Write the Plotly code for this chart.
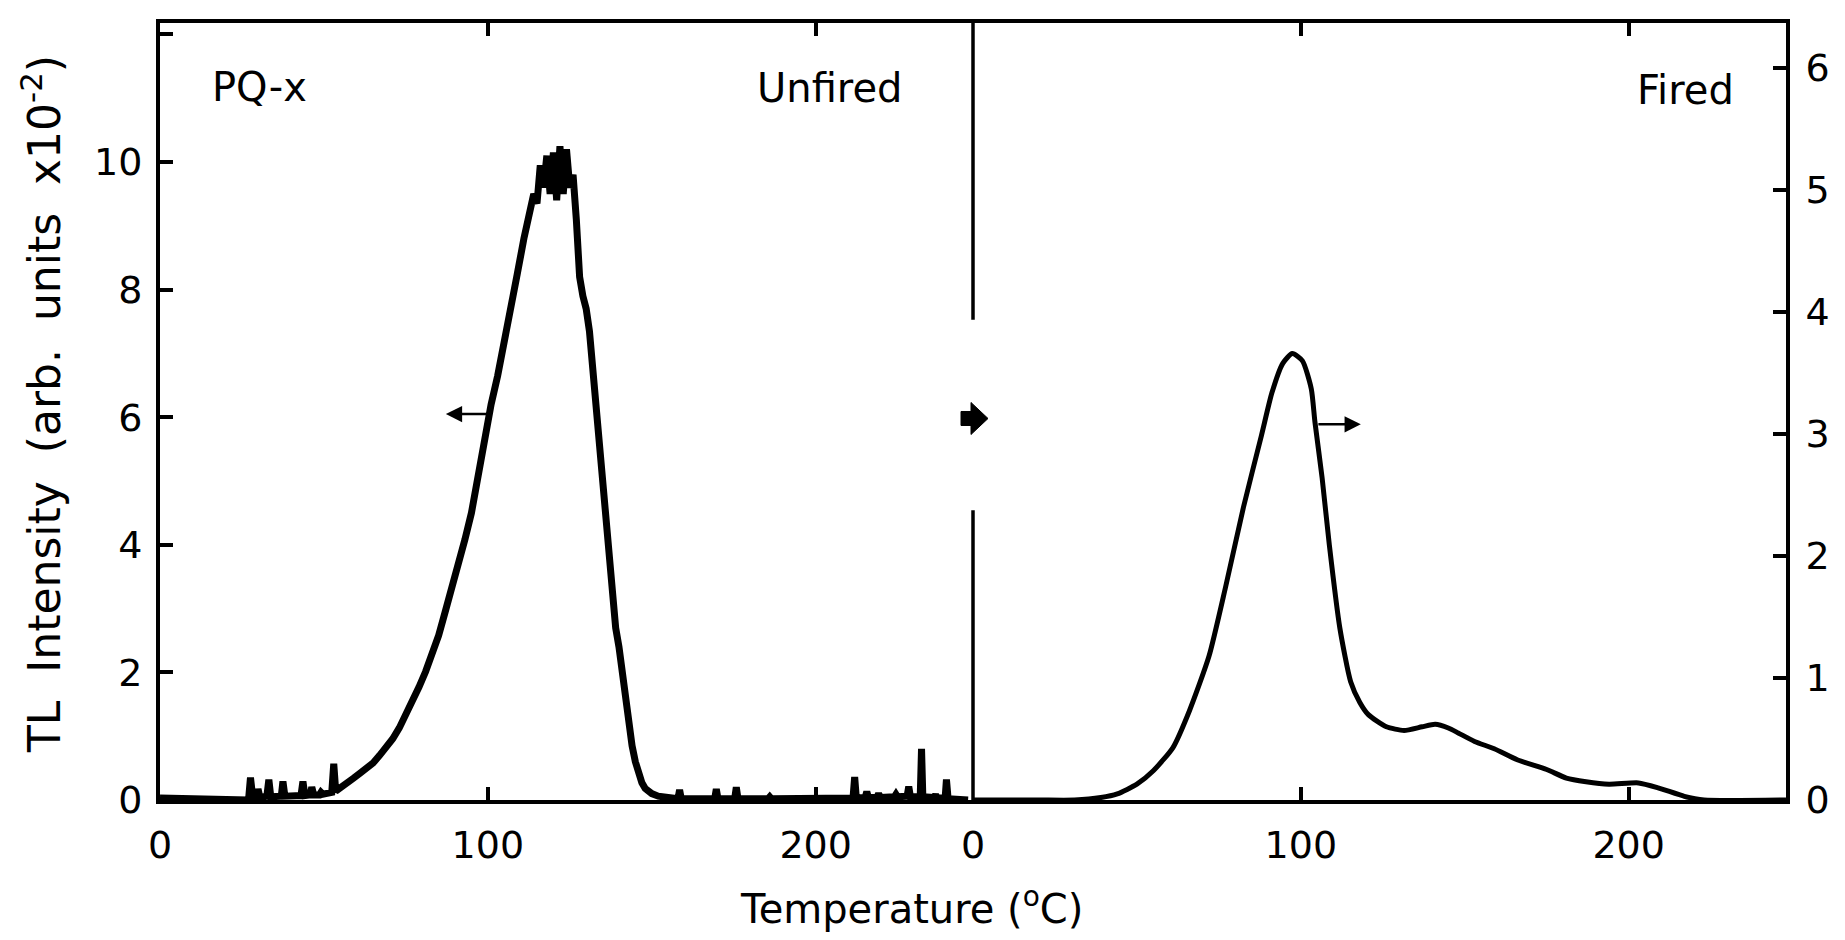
import plotly.graph_objects as go

# unfired sample (left panel, left axis)
unfired_temp = [0, 10, 20, 27.0, 27.6, 28.3, 29.4, 29.9, 30.5, 32.6, 33.2, 33.8, 37.0, 37.5, 38.1,
	43.0, 43.6, 44.2, 45.8, 46.3, 46.9, 48.6, 49.1, 49.7, 52.4, 53.0, 53.6,
	55, 57, 59, 61, 63, 65, 67, 69, 71, 73, 75, 77, 79, 81, 83, 85, 87, 89, 91, 93, 95, 97, 99,
	101, 103, 105, 107, 109, 111, 113, 114, 115, 116, 117, 118, 119, 120, 121, 122, 123, 124,
	125, 126, 127, 128, 129, 130, 131, 132, 133, 134, 135, 136, 137, 138, 139, 140, 141, 142,
	143, 144, 145, 146, 147, 148, 150, 152, 155,
	158.0, 158.5, 159.0, 169.2, 169.7, 170.2, 175.3, 175.8, 176.3, 185.5, 186.0, 186.5,
	190.4, 190.9, 191.4, 207.5, 208.0, 208.5, 211.4, 211.9, 212.4, 215.1, 215.6, 216.1,
	218.7, 219.2, 219.7, 224.0, 224.5, 225.0, 227.9, 228.4, 228.9, 231.9, 232.3, 232.7,
	236.1, 236.6, 237.1, 239.5, 239.9, 240.4, 246.5]
unfired_tl = [0.03, 0.02, 0.0, 0.0, 0.35, 0.04, 0.05, 0.17, 0.04, 0.06, 0.32, 0.05, 0.06, 0.29, 0.06,
	0.07, 0.29, 0.07, 0.08, 0.2, 0.08, 0.08, 0.12, 0.09, 0.12, 0.57, 0.14,
	0.2, 0.27, 0.34, 0.42, 0.5, 0.58, 0.7, 0.82, 0.96, 1.13, 1.33, 1.55, 1.77, 2.01, 2.28, 2.58,
	2.95, 3.3, 3.67, 4.08, 4.5, 5.05, 5.7,
	6.2, 6.65, 7.15, 7.7, 8.25, 8.8, 9.2, 9.5, 9.35, 9.95, 9.6, 10.1, 9.5, 10.15, 9.4, 10.25, 9.5, 10.2,
	9.6, 9.8, 9.1, 8.2, 7.9, 7.7, 7.35, 6.75, 6.1, 5.4, 4.85, 4.3, 3.7, 3.1, 2.7, 2.4, 2.0, 1.5,
	1.15, 0.85, 0.6, 0.4, 0.27, 0.18, 0.1, 0.06, 0.03,
	0.02, 0.16, 0.02, 0.02, 0.17, 0.02, 0.02, 0.2, 0.02, 0.02, 0.05, 0.02,
	0.02, 0.04, 0.02, 0.02, 0.04, 0.02, 0.03, 0.36, 0.03, 0.04, 0.13, 0.04,
	0.04, 0.1, 0.04, 0.05, 0.09, 0.05, 0.06, 0.21, 0.05, 0.05, 0.8, 0.05,
	0.04, 0.08, 0.03, 0.03, 0.32, 0.02, 0.0]

# fired sample (right panel, right axis)
fired_temp = [0, 20, 31, 39, 44, 50, 55, 61, 66, 72, 77, 82.5, 88, 91.2, 94.5, 97.4, 100.5, 103.2,
	104.3, 106.5, 108.7, 111.9, 115.2, 118, 120.6, 126.1, 131.5, 137, 141, 145, 148, 153, 159,
	166, 175, 181, 187, 194, 203, 209, 217, 223, 248]
fired_tl = [0, 0, 0.0, 0.02, 0.05, 0.13, 0.24, 0.43, 0.73, 1.18, 1.74, 2.4, 2.99, 3.34, 3.58, 3.66,
	3.6, 3.37, 3.1, 2.64, 2.09, 1.41, 0.97, 0.8, 0.7, 0.6, 0.57, 0.6, 0.62, 0.59, 0.55, 0.48, 0.42,
	0.33, 0.25, 0.18, 0.15, 0.13, 0.14, 0.1, 0.03, 0.0, 0]

x_ticks = [0, 100, 200]
left_ticks = [0, 2, 4, 6, 8, 10, 12]
left_labels = ['0', '2', '4', '6', '8', '10', '']
right_ticks = [0, 1, 2, 3, 4, 5, 6]

FONT = 'DejaVu Sans'
split = 0.5

fig = go.Figure()
fig.add_trace(go.Scatter(
	x = unfired_temp,
	y = unfired_tl,
	mode = 'lines',
	line = dict(color='black', width=7),
	xaxis = 'x',
	yaxis = 'y',
	showlegend = False,
))
fig.add_trace(go.Scatter(
	x = fired_temp,
	y = fired_tl,
	mode = 'lines',
	line = dict(color='black', width=5, shape='spline', smoothing=0.6),
	xaxis = 'x2',
	yaxis = 'y2',
	showlegend = False,
))

common_x = dict(
	tickvals = x_ticks,
	ticks = 'inside',
	ticklen = 13,
	tickwidth = 4,
	tickcolor = 'black',
	showline = True,
	linewidth = 4,
	linecolor = 'black',
	mirror = 'ticks',
	showgrid = False,
	zeroline = False,
	tickfont = dict(family=FONT, size=38, color='black'),
	ticklabelstandoff = 8,
)
fig.update_layout(
	width = 1845,
	height = 940,
	margin = dict(l=152, r=67, t=15, b=148),
	paper_bgcolor = 'white',
	plot_bgcolor = 'white',
	font = dict(family=FONT, color='black'),
	xaxis = dict(domain=[0, split], range=[0, 248], anchor='y', **common_x),
	xaxis2 = dict(domain=[split, 1], range=[0, 248], anchor='y2', **common_x),
	yaxis = dict(
		range = [0, 12.18],
		tickvals = left_ticks,
		ticktext = left_labels,
		ticks = 'inside',
		ticklen = 13,
		tickwidth = 4,
		tickcolor = 'black',
		showline = True,
		linewidth = 4,
		linecolor = 'black',
		showgrid = False,
		zeroline = False,
		anchor = 'x',
		tickfont = dict(family=FONT, size=38, color='black'),
		ticklabelstandoff = 6,
	),
	yaxis2 = dict(
		range = [0, 6.37],
		tickvals = right_ticks,
		ticks = 'inside',
		ticklen = 13,
		tickwidth = 4,
		tickcolor = 'black',
		showline = True,
		linewidth = 4,
		linecolor = 'black',
		showgrid = False,
		zeroline = False,
		anchor = 'x2',
		side = 'right',
		tickfont = dict(family=FONT, size=38, color='black'),
		ticklabelstandoff = 8,
	),
)

# divider between the two panels, with a gap around the block arrow
fig.add_shape(type='line', xref='paper', yref='paper', x0=split, x1=split, y0=1, y1=0.618,
	line=dict(color='black', width=3.5))
fig.add_shape(type='line', xref='paper', yref='paper', x0=split, x1=split, y0=0.373, y1=0,
	line=dict(color='black', width=3.5))
fig.add_shape(type='path', xref='paper', yref='paper', xsizemode='pixel', ysizemode='pixel',
	xanchor=split, yanchor=0.491,
	path='M -12,-7 L -2,-7 L -2,-16 L 15,0 L -2,16 L -2,7 L -12,7 Z',
	fillcolor='black', line=dict(color='black', width=1))

# axis arrows
fig.add_annotation(x=87.2, y=6.05, ax=100, ay=6.05, xref='x', yref='y', axref='x', ayref='y',
	showarrow=True, arrowhead=2, arrowsize=1.3, arrowwidth=2.5, arrowcolor='black', text='')
fig.add_annotation(x=118.3, y=3.08, ax=104.9, ay=3.08, xref='x2', yref='y2', axref='x2', ayref='y2',
	showarrow=True, arrowhead=2, arrowsize=1.3, arrowwidth=2.5, arrowcolor='black', text='')

text_font = dict(family=FONT, size=40, color='black')
fig.add_annotation(text='PQ-x', x=0.031, y=0.918, xref='paper', yref='paper',
	xanchor='left', yanchor='middle', showarrow=False, font=text_font)
fig.add_annotation(text='Unfired', x=0.4576, y=0.916, xref='paper', yref='paper',
	xanchor='right', yanchor='middle', showarrow=False, font=text_font)
fig.add_annotation(text='Fired', x=0.969, y=0.914, xref='paper', yref='paper',
	xanchor='right', yanchor='middle', showarrow=False, font=text_font)

fig.add_annotation(text='Temperature (<sup>o</sup>C)', x=0.462, y=-0.137, xref='paper', yref='paper',
	xanchor='center', yanchor='middle', showarrow=False, font=text_font)
fig.add_annotation(text='TL  Intensity  (arb.  units  x10<sup>-2</sup>)', x=-0.073, y=0.51,
	xref='paper', yref='paper', xanchor='center', yanchor='middle', textangle=-90,
	showarrow=False, font=dict(family=FONT, size=44, color='black'))

fig.write_html('out.html')
